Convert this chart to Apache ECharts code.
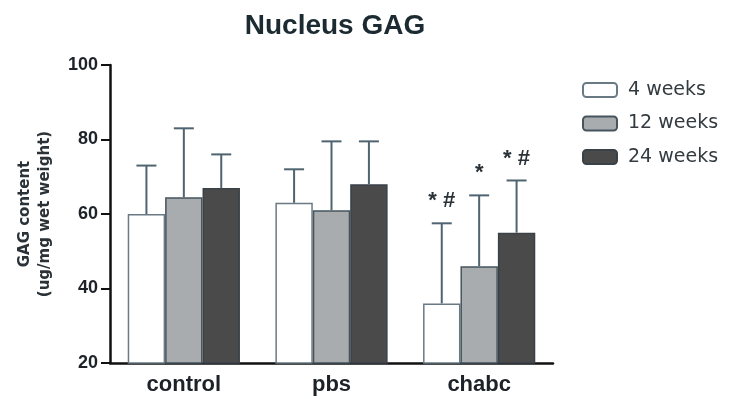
<!DOCTYPE html>
<html><head><meta charset="utf-8">
<script src="https://cdn.jsdelivr.net/npm/echarts@6/dist/echarts.min.js"></script>
<style>html,body{margin:0;padding:0;background:#fff}#c{width:743px;height:399px}</style>
</head><body><div id="c"></div>
<script>
const categories = ['control', 'pbs', 'chabc'];
const seriesNames = ['4 weeks', '12 weeks', '24 weeks'];
const mean4 = [60, 63, 36];
const mean12 = [64.5, 61, 46];
const mean24 = [67, 68, 55];
const top4 = [73, 72, 57.5];
const top12 = [83, 79.5, 65];
const top24 = [76, 79.5, 69];
const note4 = ['', '', '*#'];
const note12 = ['', '', '*'];
const note24 = ['', '', '*#'];
const yTicks = [20, 40, 60, 80, 100];

const means = [mean4, mean12, mean24];
const tops = [top4, top12, top24];
const notes = [note4, note12, note24];
const fills = ['#ffffff', '#a9acae', '#4a4a4a'];
const borders = ['#6a7a84', '#46545e', '#3a4248'];
const GAP = 0.24;

const chart = echarts.init(document.getElementById('c'));
const series = [];
means.forEach((m, i) => {
  series.push({
    name: seriesNames[i], type: 'bar', data: m,
    barGap: '0%', barCategoryGap: (GAP * 100) + '%',
    itemStyle: { color: fills[i], borderColor: borders[i], borderWidth: 1.5 },
    z: 3
  });
});
means.forEach((m, i) => {
  series.push({
    type: 'custom', z: 4, silent: true,
    data: categories.map((c, k) => [k, m[k], tops[i][k]]),
    renderItem: function (params, api) {
      const k = api.value(0);
      const band = api.size([1, 0])[0];
      const bw = band * (1 - GAP) / 3;
      const base = api.coord([k, api.value(1)]);
      const tp = api.coord([k, api.value(2)]);
      const x = base[0] + (i - 1) * bw;
      const half = 10;
      const st = { stroke: '#4f6370', lineWidth: 2 };
      const children = [
        { type: 'line', shape: { x1: x, y1: base[1], x2: x, y2: tp[1] }, style: st },
        { type: 'line', shape: { x1: x - half, y1: tp[1], x2: x + half, y2: tp[1] }, style: st }
      ];
      const note = notes[i][k];
      if (note) {
        children.push({ type: 'text', style: { text: note.split('').join(' '), x: x, y: tp[1] - 11,
          textAlign: 'center', textVerticalAlign: 'bottom',
          font: 'bold 22px "Liberation Sans", Arial', fill: '#2a3238' } });
      }
      return { type: 'group', children: children };
    }
  });
});

chart.setOption({
  animation: false,
  backgroundColor: '#ffffff',
  title: { text: 'Nucleus GAG', left: 330, top: 7, textAlign: 'center',
    textStyle: { fontFamily: 'Liberation Sans', fontWeight: 'bold', fontSize: 28, color: '#1c2a32' } },
  legend: {
    orient: 'vertical', left: 577, top: 75, itemWidth: 34, itemHeight: 14, itemGap: 13.5,
    data: seriesNames,
    textStyle: { fontFamily: 'DejaVu Sans', fontSize: 19, lineHeight: 20, color: '#333b40', padding: [0, 0, 0, 6] }
  },
  grid: { left: 110, right: 190, top: 65, bottom: 36 },
  xAxis: {
    type: 'category', data: categories,
    axisLine: { lineStyle: { color: '#111', width: 2.5 } },
    axisTick: { alignWithLabel: true, length: 6, lineStyle: { color: '#111', width: 2 } },
    axisLabel: { fontFamily: 'Liberation Sans', fontWeight: 'bold', fontSize: 22, color: '#1c2228', margin: 11 }
  },
  yAxis: {
    type: 'value', min: yTicks[0], max: yTicks[yTicks.length - 1], interval: 20,
    name: 'GAG content\n(ug/mg wet weight)', nameLocation: 'middle', nameGap: 55, nameRotate: 90,
    nameTextStyle: { fontFamily: 'DejaVu Sans', fontWeight: 'bold', fontSize: 15, color: '#2a3238', lineHeight: 20 },
    splitLine: { show: false },
    axisLine: { show: true, lineStyle: { color: '#111', width: 2.5 } },
    axisTick: { show: true, length: 9, lineStyle: { color: '#111', width: 2 } },
    axisLabel: { fontFamily: 'Liberation Sans', fontWeight: 'bold', fontSize: 18, color: '#1c2228', margin: 12 }
  },
  series: series
});
</script></body></html>
